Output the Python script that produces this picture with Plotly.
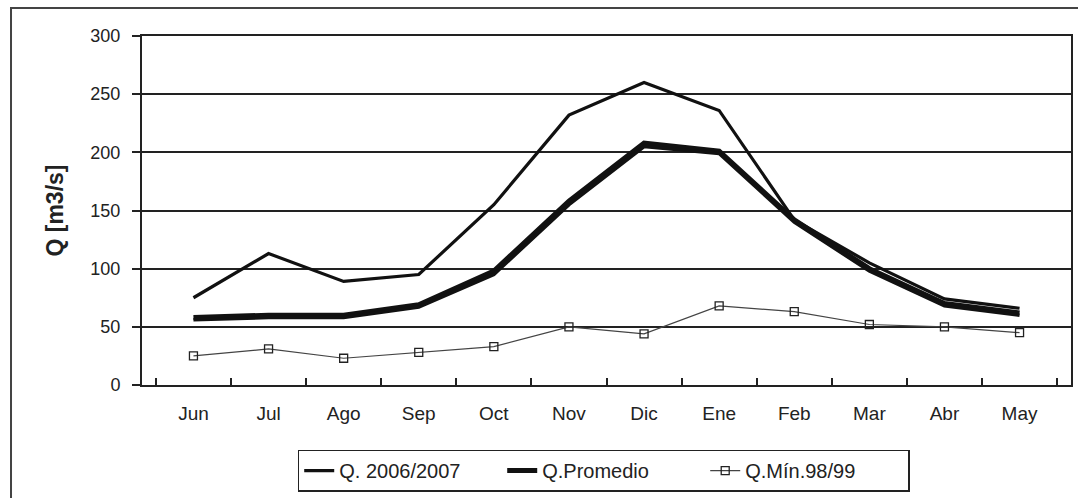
import plotly.graph_objects as go

months = ["Jun", "Jul", "Ago", "Sep", "Oct", "Nov", "Dic", "Ene", "Feb", "Mar", "Abr", "May"]
q_2006_2007 = [75, 113, 89, 95, 155, 232, 260, 236, 142, 105, 74, 66]
q_promedio = [58, 60, 60, 69, 98, 158, 208, 201, 142, 100, 70, 62]
q_promedio_b = [56, 58, 58, 67, 95, 155, 205, 199, 140, 98, 68, 60]
q_min_98_99 = [25, 31, 23, 28, 33, 50, 44, 68, 63, 52, 50, 45]

font_family = "Liberation Sans, Arial, sans-serif"

fig = go.Figure()
fig.add_trace(go.Scatter(x=months, y=q_2006_2007, mode="lines", name="Q. 2006/2007",
                         line=dict(color="#111111", width=3.2)))
fig.add_trace(go.Scatter(x=months, y=q_promedio, mode="lines", name="Q.Promedio",
                         line=dict(color="#111111", width=5)))
fig.add_trace(go.Scatter(x=months, y=q_promedio_b, mode="lines", name="Q.Promedio",
                         line=dict(color="#111111", width=3.5), showlegend=False))
fig.add_trace(go.Scatter(x=months, y=q_min_98_99, mode="lines+markers", name="Q.Mín.98/99",
                         line=dict(color="#444444", width=1.2),
                         marker=dict(symbol="square-open", size=8, color="#222222",
                                     line=dict(width=1.3))))

fig.update_layout(
    width=1078, height=498,
    margin=dict(l=142, r=7, t=36, b=113, autoexpand=False),
    paper_bgcolor="white", plot_bgcolor="white",
    font=dict(family=font_family, color="#222222", size=18),
    showlegend=True,
    legend=dict(orientation="h", x=0.497, xanchor="center", y=-0.185, yanchor="top",
                bordercolor="#222222", borderwidth=1.5, font=dict(size=20),
                entrywidth=158, tracegroupgap=0, bgcolor="white"),
    shapes=[dict(type="rect", xref="paper", yref="paper",
                 x0=-0.141, x1=1.2, y0=-0.4, y1=1.080,
                 line=dict(color="#444444", width=2), layer="below")],
)
fig.update_xaxes(showline=True, linecolor="#222222", linewidth=2, mirror=True,
                 ticks="inside", tickson="boundaries", ticklen=7, tickcolor="#222222",
                 tickwidth=1.5, showgrid=False, tickfont=dict(size=19),
                 ticklabelstandoff=10, automargin=False)
fig.update_yaxes(range=[0, 300], dtick=50, showline=True, linecolor="#222222", linewidth=2,
                 mirror=True, ticks="outside", ticklen=8, tickcolor="#222222", tickwidth=1.5,
                 showgrid=True, gridcolor="#222222", gridwidth=1.5, zeroline=False,
                 tickfont=dict(size=18), ticklabelstandoff=8, automargin=False,
                 title=dict(text="<b>Q [m3/s]</b>", font=dict(size=23), standoff=20))

fig.write_html("out.html", post_script="document.body.style.margin='0';",
               config={"displayModeBar": False})
